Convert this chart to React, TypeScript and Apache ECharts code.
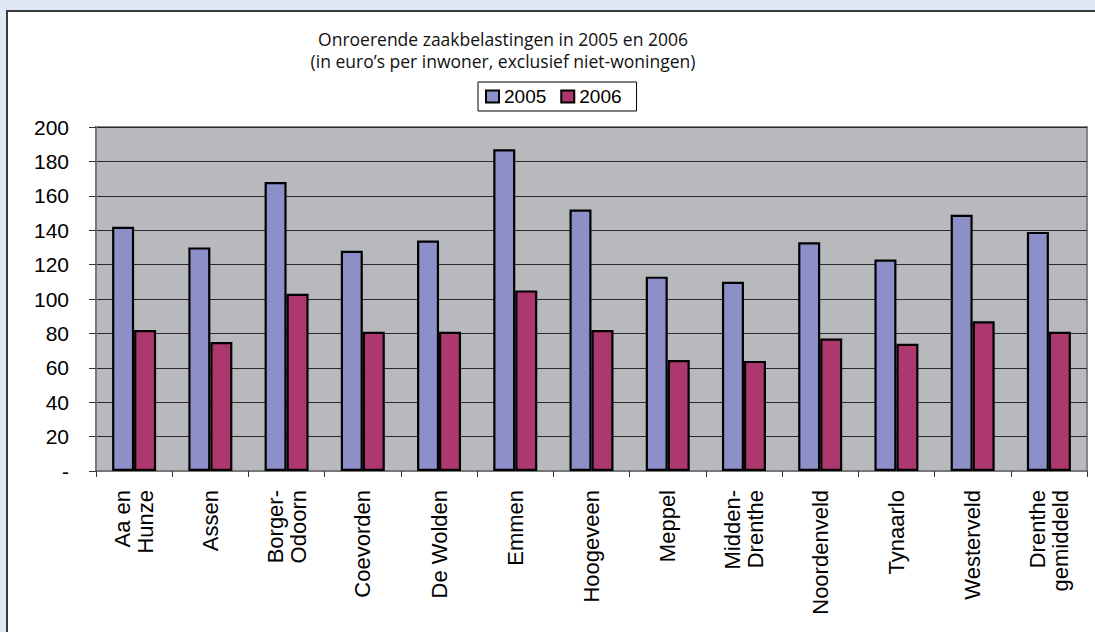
import React, { useEffect, useRef } from "react";
import * as echarts from "echarts";

const categories = [
  "Aa en\nHunze",
  "Assen",
  "Borger-\nOdoorn",
  "Coevorden",
  "De Wolden",
  "Emmen",
  "Hoogeveen",
  "Meppel",
  "Midden-\nDrenthe",
  "Noordenveld",
  "Tynaarlo",
  "Westerveld",
  "Drenthe\ngemiddeld",
];
const values2005 = [142, 130, 168, 128, 134, 187, 152, 113, 110, 133, 123, 149, 139];
const values2006 = [82, 75, 103, 81, 81, 105, 82, 64.5, 64, 77, 74, 87, 81];
const seriesNames = ["2005", "2006"];
const titleLines = [
  "Onroerende zaakbelastingen in 2005 en 2006",
  "(in euro\u2019s per inwoner, exclusief niet-woningen)",
];
const yMin = 0;
const yMax = 200;
const yStep = 20;

export default function App() {
  const ref = useRef<HTMLDivElement>(null);

  useEffect(() => {
    if (!ref.current) return;
    const chart = echarts.init(ref.current, null, { renderer: "svg" });
    const axisFont = "Liberation Sans, Arial, sans-serif";
    chart.setOption({
      animation: false,
      backgroundColor: "#dfe9f5",
      graphic: [
        {
          type: "rect",
          z: -10,
          shape: { x: 7, y: 11, width: 1200, height: 700 },
          style: { fill: "#ffffff", stroke: "#3a3a3a", lineWidth: 2 },
        },
        {
          type: "text",
          x: 503,
          y: 28,
          style: {
            text: titleLines.join("\n"),
            fontFamily: "Open Sans, sans-serif",
            fontSize: 17.5,
            lineHeight: 22,
            fill: "#111",
            align: "center",
            verticalAlign: "top",
          },
        },
      ],
      legend: {
        data: seriesNames,
        left: 478,
        top: 82,
        orient: "horizontal",
        backgroundColor: "#ffffff",
        borderColor: "#000",
        borderWidth: 1,
        padding: [5, 15, 5, 7],
        itemGap: 14,
        itemWidth: 13,
        itemHeight: 12,
        icon: "rect",
        textStyle: { fontFamily: axisFont, fontSize: 19, color: "#000", padding: [2, 0, 0, 0] },
      },
      grid: {
        left: 96,
        right: 8,
        top: 127,
        bottom: 161,
        show: true,
        backgroundColor: "#b7b9bc",
        borderColor: "#858585",
        borderWidth: 2,
        containLabel: false,
      },
      xAxis: {
        type: "category",
        data: categories,
        boundaryGap: true,
        axisLine: { show: true, lineStyle: { color: "#777", width: 2 } },
        axisTick: { show: true, inside: false, length: 6, lineStyle: { color: "#333", width: 1 } },
        axisLabel: {
          rotate: 90,
          interval: 0,
          margin: 19,
          fontFamily: axisFont,
          fontSize: 22,
          lineHeight: 23,
          color: "#000",
        },
        splitLine: { show: false },
      },
      yAxis: {
        type: "value",
        min: yMin,
        max: yMax,
        interval: yStep,
        axisLine: { show: true, lineStyle: { color: "#777", width: 2 } },
        axisTick: { show: true, inside: false, length: 7, lineStyle: { color: "#333", width: 1 } },
        axisLabel: {
          margin: 27,
          fontFamily: axisFont,
          fontSize: 21,
          color: "#000",
          formatter: (v: number) => (v === 0 ? "-" : String(v)),
        },
        splitLine: { show: true, lineStyle: { color: "#2a2a2a", width: 1 } },
      },
      series: [
        {
          name: seriesNames[0],
          type: "bar",
          data: values2005,
          barWidth: 22,
          barGap: "0%",
          itemStyle: { color: "#8d90c8", borderColor: "#000", borderWidth: 2.2 },
        },
        {
          name: seriesNames[1],
          type: "bar",
          data: values2006,
          barWidth: 22,
          barGap: "0%",
          itemStyle: { color: "#ad376f", borderColor: "#000", borderWidth: 2.2 },
        },
      ],
    });
    return () => chart.dispose();
  }, []);

  return (
    <div
      ref={ref}
      style={{ position: "fixed", left: 0, top: 0, width: 1095, height: 632 }}
    />
  );
}
